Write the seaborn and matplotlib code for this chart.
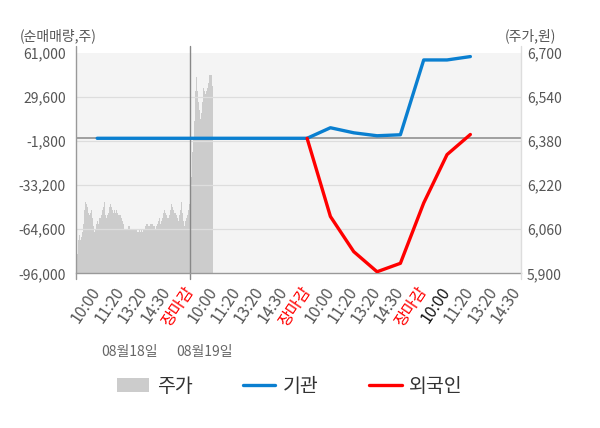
import numpy as np
import pandas as pd
import matplotlib
matplotlib.use("Agg")
import matplotlib.pyplot as plt
import seaborn as sns

# ---------------- data ----------------
tick_labels = ["10:00", "11:20", "13:20", "14:30", "장마감",
               "10:00", "11:20", "13:20", "14:30", "장마감",
               "10:00", "11:20", "13:20", "14:30", "장마감",
               "10:00", "11:20", "13:20", "14:30"]

inst_idx = list(range(17))
inst_vals = [0, 0, 0, 0, 0, 0, 0, 0, 0, 0,
             7500, 3900, 1800, 2500, 55700, 55700, 58100]

foreign_idx = [9, 10, 11, 12, 13, 14, 15, 16]
foreign_vals = [0, -55600, -80600, -94900, -88900, -46000, -11600, 2700]

price_day1 = [6050, 5980, 5970, 6020, 6040, 6020, 6030, 6050, 6080, 6130, 6160, 6150,
              6140, 6120, 6110, 6120, 6130, 6100, 6070, 6050, 6060, 6080, 6090, 6080,
              6100, 6100, 6110, 6130, 6140, 6160, 6110, 6100, 6110, 6120, 6140, 6150,
              6140, 6130, 6120, 6130, 6120, 6130, 6120, 6110, 6110, 6110, 6100, 6090,
              6080, 6060, 6060, 6060, 6060, 6070, 6070, 6060, 6060, 6060, 6060, 6060,
              6060, 6060, 6050, 6050, 6060, 6050, 6060, 6050, 6060, 6060, 6070, 6080,
              6080, 6070, 6070, 6080, 6080, 6080, 6070, 6070, 6060, 6070, 6080, 6090,
              6100, 6080, 6090, 6100, 6120, 6130, 6120, 6110, 6100, 6100, 6110, 6130,
              6150, 6140, 6130, 6120, 6120, 6110, 6100, 6090, 6110, 6130, 6160, 6120,
              6090, 6070, 6090, 6100, 6110, 6130, 6150]
price_day2 = [6220, 6250, 6340, 6390, 6450, 6560, 6610, 6560, 6520, 6490, 6460, 6480,
              6520, 6570, 6560, 6550, 6560, 6570, 6590, 6620, 6620, 6620, 6580]

left_ticks = [-96000, -64600, -33200, -1800, 29600, 61000]
right_ticks = [5900, 6060, 6220, 6380, 6540, 6700]
date_labels = ["08월18일", "08월19일"]
legend_labels = ["주가", "기관", "외국인"]

# ---------------- style ----------------
sns.set_style("white")
plt.rcParams['font.family'] = ['Noto Sans CJK KR', 'DejaVu Sans']

W, H = 600, 428
fig = plt.figure(figsize=(W / 100, H / 100), dpi=100)
fig.patch.set_facecolor("white")

ax_l, ax_r, ax_t, ax_b = 75.5, 520.5, 52.5, 273.3
ax = fig.add_axes([ax_l / W, 1 - ax_b / H, (ax_r - ax_l) / W, (ax_b - ax_t) / H])
ax2 = ax.twinx()
ax.set_zorder(ax2.get_zorder() + 1)
ax.patch.set_visible(False)
ax2.patch.set_visible(True)
ax2.patch.set_facecolor("#f4f4f4")

xmin, xmax = -0.93, 18.15
close_pos = 4  # position of first 장마감 separator

# ---------------- price area (right axis) ----------------
step = (close_pos - xmin) / len(price_day1)
prices = price_day1 + price_day2
px = xmin + np.arange(len(prices) + 1) * step
py = np.array(prices + [prices[-1]], dtype=float)
price_art = ax2.fill_between(px, py, right_ticks[0], step="post",
                             color="#cccccc", linewidth=0)
ax2.set_ylim(right_ticks[0], right_ticks[-1])
ax2.set_yticks(right_ticks)
ax2.set_yticklabels([f"{v:,}" for v in right_ticks])
ax2.tick_params(axis="y", length=0, pad=4.5, labelsize=10, labelcolor="#555555")
for s in ["top", "left", "bottom", "right"]:
    ax2.spines[s].set_visible(False)

# ---------------- net buying lines (left axis) ----------------
df_inst = pd.DataFrame({"x": inst_idx, "y": inst_vals})
df_for = pd.DataFrame({"x": foreign_idx, "y": foreign_vals})

ax.yaxis.grid(True, color="#dddddd", linewidth=0.9, zorder=0)
ax.set_axisbelow(True)
ax.axhline(0, color="#999999", linewidth=1.3, zorder=1)

sns.lineplot(data=df_inst, x="x", y="y", ax=ax, color="#0a7fd0", linewidth=2.4,
             legend=False, sort=False, zorder=3)
inst_line = ax.lines[-1]
sns.lineplot(data=df_for, x="x", y="y", ax=ax, color="#ff0000", linewidth=2.4,
             legend=False, sort=False, zorder=4)
for_line = ax.lines[-1]

ax.set_xlim(xmin, xmax)
ax.set_ylim(left_ticks[0], left_ticks[-1])
ax.set_yticks(left_ticks)
ax.set_yticklabels([f"{v:,}" for v in left_ticks])
ax.tick_params(axis="y", length=0, pad=7, labelsize=10, labelcolor="#555555")
gl = ax.yaxis.get_gridlines()
gl[-1].set_visible(False)
gl[0].set_visible(False)
ax.set_xlabel("")
ax.set_ylabel("")
ax2.set_ylabel("")

ax.set_xticks(range(len(tick_labels)))
ax.set_xticklabels(tick_labels, rotation=56, ha="right", va="center",
                   rotation_mode="anchor", fontsize=11.5)
ax.tick_params(axis="x", length=0, pad=11)
for i, t in enumerate(ax.get_xticklabels()):
    if tick_labels[i] == "장마감":
        t.set_color("#ff0000")
    elif i == 15:
        t.set_color("#111111")
    else:
        t.set_color("#555555")

for s in ["top", "right", "left"]:
    ax.spines[s].set_visible(False)
ax.spines["bottom"].set_color("#999999")
ax.spines["bottom"].set_linewidth(1)

# frame lines (extend slightly above / below the plot like the reference)
ax.plot([0, 0], [-0.025, 1.03], transform=ax.transAxes, color="#999999",
        linewidth=1, clip_on=False, zorder=5)
ax.plot([1, 1], [-0.025, 1.03], transform=ax.transAxes, color="#dddddd",
        linewidth=1, clip_on=False, zorder=5)
ax.axvline(close_pos, ymin=-0.025, ymax=1.03, color="#888888", linewidth=1,
           clip_on=False, zorder=2)

# ---------------- texts ----------------
fig.text(20 / W, 1 - 36 / H, "(순매매량,주)", ha="left", va="center",
         fontsize=10, color="#555555")
fig.text(556 / W, 1 - 36 / H, "(주가,원)", ha="right", va="center",
         fontsize=10, color="#555555")
fig.text(130 / W, 1 - 352 / H, date_labels[0], ha="center", va="center",
         fontsize=10, color="#666666")
fig.text(204 / W, 1 - 352 / H, date_labels[1], ha="center", va="center",
         fontsize=10, color="#666666")

# ---------------- legend ----------------
handles = [price_art, inst_line, for_line]
leg = fig.legend(handles, legend_labels, loc="center",
                 bbox_to_anchor=(290 / W, 1 - 386 / H), ncol=3, frameon=False,
                 fontsize=14, handlelength=1.65, handleheight=0.7,
                 handletextpad=0.4, columnspacing=2.6)
for t in leg.get_texts():
    t.set_color("#333333")

fig.savefig("out.png", dpi=100)
